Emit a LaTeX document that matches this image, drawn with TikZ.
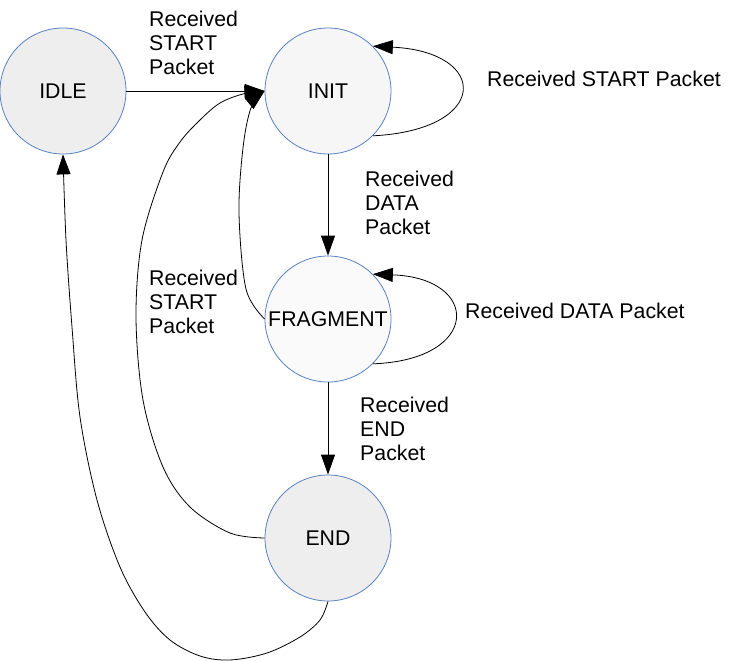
\documentclass[tikz,border=0pt]{standalone}
\usepackage{fontspec}
\setmainfont{Liberation Sans}
\usetikzlibrary{arrows.meta}
\definecolor{stateborder}{HTML}{5A82C2}
\definecolor{fillA}{HTML}{EEEEEE}
\definecolor{fillB}{HTML}{F6F6F6}
\definecolor{fillC}{HTML}{FAFAFA}
\begin{document}
\begin{tikzpicture}[x=1pt,y=-1pt,
  state/.style={circle,draw=stateborder,line width=0.8pt,minimum size=126pt,inner sep=0pt,
    font=\fontsize{21.3}{24}\selectfont},
  lbl/.style={anchor=north west,inner sep=0pt,align=left,font=\fontsize{21.3}{24}\selectfont},
  conn/.style={draw=black,line width=0.8pt,-{Triangle[length=20pt,width=14pt]}}]
\useasboundingbox (0,0) rectangle (756,661);

\node[state,fill=fillA] (idle) at (63,91) {IDLE};
\node[state,fill=fillB] (init) at (328,91) {INIT};
\node[state,fill=fillC] (frag) at (328,319) {FRAGMENT};
\node[state,fill=fillA] (end) at (328,538) {END};

% IDLE -> INIT
\draw[conn] (idle.east) -- (init.west);
% INIT self loop
\draw[conn] (init.-45) .. controls (490,130) and (490,52) .. (init.45);
% INIT -> FRAGMENT
\draw[conn] (init.south) -- (frag.north);
% FRAGMENT self loop
\draw[conn] (frag.-45) .. controls (481,360) and (481,278) .. (frag.45);
% FRAGMENT -> END
\draw[conn] (frag.south) -- (end.north);
% FRAGMENT -> INIT
\draw[conn] plot[smooth,tension=0.55] coordinates {(frag.west) (246,289) (239,213) (243,148) (251,108) (init.west)};
% END -> INIT
\draw[conn] plot[smooth,tension=0.55] coordinates {(end.west) (230,533) (190,507) (163,467) (143,400) (136,317) (142,240) (163,172) (180,142) (200,120) (220,103) (243,94) (init.west)};
% END -> IDLE
\draw[conn] plot[smooth,tension=0.55] coordinates {(end.south) (320,620) (300,637) (267,653) (230,660) (200,656) (170,640) (145,612) (120,567) (97,500) (80,417) (72,327) (66,240) (idle.south)};

\node[lbl] (l1) at (149,10.5) {Received\\START\\Packet};
\node[lbl] (l2) at (487,70.5) {Received START Packet};
\node[lbl] (l3) at (365,170.5) {Received\\DATA\\Packet};
\node[lbl] (l4) at (465,302.5) {Received DATA Packet};
\node[lbl] (l5) at (149,269.5) {Received\\START\\Packet};
\node[lbl] (l6) at (360,396.5) {Received\\END\\Packet};
\end{tikzpicture}
\end{document}
